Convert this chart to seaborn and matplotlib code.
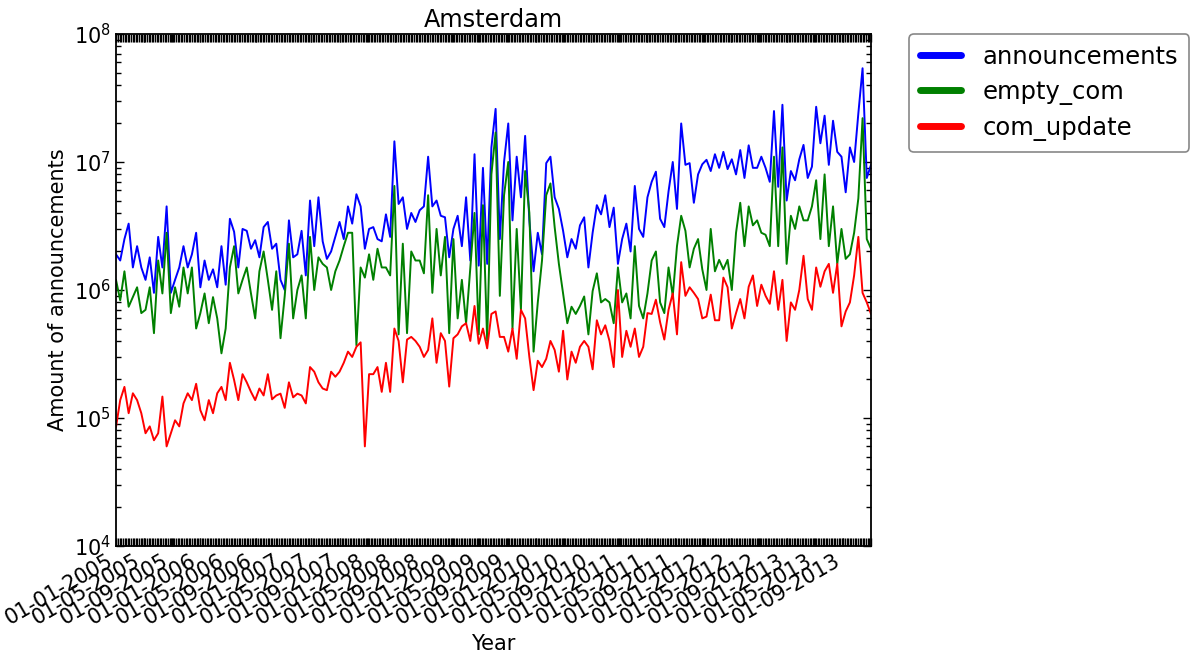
import numpy as np
import pandas as pd
import matplotlib
matplotlib.use('Agg')
import matplotlib.pyplot as plt
import matplotlib.dates as mdates
import seaborn as sns

sns.set_style('ticks')
plt.rcParams['font.family'] = ['DejaVu Sans']
plt.rcParams['mathtext.fontset'] = 'dejavusans'
for key in ['text.color', 'axes.labelcolor', 'xtick.color', 'ytick.color', 'axes.edgecolor']:
    plt.rcParams[key] = 'black'

start_date = '2005-01-01'
end_date = '2013-12-31'

series_names = ['announcements', 'empty_com', 'com_update']
series_colors = ['#0000ff', '#008000', '#ff0000']

announcements = [
    1.9e6, 1.7e6, 2.5e6, 3.3e6, 1.5e6, 2.2e6, 1.5e6, 1.2e6, 1.8e6, 0.95e6,
    2.6e6, 1.5e6, 4.5e6, 0.95e6, 1.2e6, 1.5e6, 2.2e6, 1.5e6, 1.9e6, 2.8e6,
    1.05e6, 1.7e6, 1.2e6, 1.45e6, 1.05e6, 2.2e6, 1.1e6, 3.6e6, 2.85e6, 1.5e6,
    3.0e6, 2.9e6, 2.1e6, 2.45e6, 1.8e6, 3.1e6, 3.4e6, 2.1e6, 2.3e6, 1.2e6,
    1.0e6, 3.5e6, 1.8e6, 1.9e6, 2.9e6, 1.3e6, 5.0e6, 2.2e6, 5.3e6, 2.4e6,
    1.75e6, 2.0e6, 2.6e6, 3.4e6, 2.5e6, 4.5e6, 3.3e6, 5.6e6, 4.5e6, 2.1e6,
    3.0e6, 3.1e6, 2.5e6, 2.4e6, 3.9e6, 2.6e6, 14.5e6, 4.7e6, 5.3e6, 3.0e6,
    4.0e6, 3.4e6, 4.2e6, 4.5e6, 11.0e6, 4.5e6, 5.0e6, 3.8e6, 3.7e6, 1.8e6,
    3.0e6, 3.8e6, 2.2e6, 5.3e6, 1.7e6, 11.5e6, 1.55e6, 9.0e6, 1.6e6, 13.0e6,
    26e6, 2.5e6, 10.0e6, 20e6, 3.5e6, 11e6, 5.3e6, 16e6, 3.5e6, 1.4e6,
    2.8e6, 1.9e6, 9.8e6, 11.0e6, 5.3e6, 4.3e6, 2.9e6, 1.8e6, 2.5e6, 2.1e6,
    3.2e6, 3.7e6, 1.5e6, 2.8e6, 4.6e6, 3.9e6, 5.5e6, 3.1e6, 4.4e6, 1.6e6,
    2.5e6, 3.3e6, 2.0e6, 6.5e6, 3.0e6, 2.6e6, 5.3e6, 7.0e6, 8.4e6, 3.6e6,
    3.1e6, 5.9e6, 10e6, 4.3e6, 20e6, 9.5e6, 9.8e6, 4.8e6, 8.0e6, 9.6e6,
    10.4e6, 8.5e6, 11.5e6, 9.0e6, 12e6, 8.8e6, 10.5e6, 8.0e6, 12.4e6, 7.5e6,
    13.5e6, 9.0e6, 9e6, 11e6, 9e6, 7e6, 25e6, 6.4e6, 28e6, 5e6,
    8.5e6, 7.2e6, 10.5e6, 13.6e6, 7.5e6, 9.2e6, 27e6, 14e6, 23e6, 9.5e6,
    21e6, 12e6, 11e6, 5.8e6, 13e6, 10e6, 24e6, 54e6, 7.5e6, 9.5e6,
]

empty_com = [
    1.2e6, 0.83e6, 1.4e6, 0.74e6, 0.88e6, 1.05e6, 0.66e6, 0.7e6, 1.05e6, 0.46e6,
    1.7e6, 0.94e6, 2.8e6, 0.66e6, 1.05e6, 0.74e6, 1.5e6, 0.94e6, 1.5e6, 0.5e6,
    0.66e6, 0.94e6, 0.55e6, 0.88e6, 0.6e6, 0.32e6, 0.5e6, 1.5e6, 2.2e6, 0.94e6,
    1.2e6, 1.5e6, 0.94e6, 0.6e6, 1.4e6, 2.0e6, 1.2e6, 0.7e6, 1.4e6, 0.42e6,
    0.9e6, 2.3e6, 0.6e6, 1.0e6, 1.3e6, 0.6e6, 2.6e6, 1.0e6, 1.8e6, 1.6e6,
    1.5e6, 1.0e6, 1.4e6, 1.7e6, 2.2e6, 2.8e6, 2.8e6, 0.37e6, 1.5e6, 1.25e6,
    1.9e6, 1.2e6, 2.1e6, 1.5e6, 1.5e6, 1.3e6, 6.5e6, 0.45e6, 2.3e6, 0.46e6,
    2.0e6, 1.7e6, 1.7e6, 1.35e6, 5.5e6, 0.95e6, 3.0e6, 1.3e6, 2.6e6, 0.46e6,
    2.5e6, 0.6e6, 1.2e6, 0.55e6, 1.5e6, 4.0e6, 0.45e6, 4.6e6, 0.4e6, 8.0e6,
    17e6, 0.9e6, 5.5e6, 10e6, 0.5e6, 3.0e6, 0.7e6, 8.5e6, 4.0e6, 0.33e6,
    0.8e6, 1.7e6, 5.5e6, 6.8e6, 3.1e6, 1.6e6, 0.94e6, 0.55e6, 0.74e6, 0.65e6,
    0.75e6, 0.89e6, 0.45e6, 0.98e6, 1.35e6, 0.8e6, 0.85e6, 0.8e6, 0.55e6, 1.5e6,
    0.8e6, 0.94e6, 0.6e6, 2.2e6, 0.75e6, 0.6e6, 0.94e6, 1.7e6, 2.0e6, 0.8e6,
    0.66e6, 1.5e6, 0.9e6, 2.2e6, 3.8e6, 2.9e6, 1.5e6, 2.1e6, 2.5e6, 1.45e6,
    1.0e6, 3.0e6, 1.4e6, 1.72e6, 1.45e6, 1.72e6, 1.0e6, 2.8e6, 4.8e6, 2.2e6,
    4.5e6, 3.2e6, 3.5e6, 2.8e6, 2.7e6, 2.2e6, 11e6, 2.2e6, 13e6, 1.6e6,
    3.8e6, 3.0e6, 4.5e6, 3.5e6, 3.5e6, 4.5e6, 7.2e6, 2.5e6, 8.0e6, 2.2e6,
    4.5e6, 1.6e6, 3.0e6, 1.75e6, 1.9e6, 2.8e6, 5.2e6, 22e6, 2.5e6, 2.1e6,
]

com_update = [
    0.85e5, 1.38e5, 1.75e5, 1.09e5, 1.56e5, 1.38e5, 1.09e5, 0.76e5, 0.86e5, 0.67e5,
    0.76e5, 1.47e5, 0.6e5, 0.76e5, 0.96e5, 0.86e5, 1.3e5, 1.56e5, 1.38e5, 1.85e5,
    1.15e5, 0.96e5, 1.38e5, 1.09e5, 1.56e5, 1.75e5, 1.38e5, 2.7e5, 1.98e5, 1.38e5,
    2.2e5, 1.9e5, 1.6e5, 1.38e5, 1.7e5, 1.5e5, 2.2e5, 1.4e5, 1.5e5, 1.55e5,
    1.2e5, 1.9e5, 1.45e5, 1.55e5, 1.5e5, 1.3e5, 2.5e5, 2.3e5, 1.9e5, 1.7e5,
    1.65e5, 2.3e5, 2.1e5, 2.3e5, 2.7e5, 3.3e5, 3.0e5, 3.6e5, 3.9e5, 0.6e5,
    2.2e5, 2.2e5, 2.5e5, 1.6e5, 2.7e5, 1.6e5, 5.0e5, 4.0e5, 1.9e5, 4.1e5,
    4.3e5, 4.0e5, 3.6e5, 3.0e5, 3.4e5, 6.0e5, 2.7e5, 4.6e5, 4.0e5, 1.76e5,
    4.2e5, 4.5e5, 5.2e5, 5.5e5, 4.0e5, 7.5e5, 3.8e5, 5.0e5, 3.5e5, 6.5e5,
    6.8e5, 4.3e5, 4.3e5, 3.3e5, 5.0e5, 2.9e5, 7.0e5, 6.0e5, 3.0e5, 1.65e5,
    2.8e5, 2.5e5, 2.9e5, 4.0e5, 3.4e5, 2.3e5, 4.8e5, 2.0e5, 3.3e5, 2.7e5,
    3.6e5, 4.0e5, 3.6e5, 2.4e5, 5.8e5, 4.5e5, 5.3e5, 4.0e5, 2.5e5, 10e5,
    3.0e5, 4.8e5, 3.6e5, 5.0e5, 3.0e5, 3.6e5, 6.6e5, 6.5e5, 8.4e5, 5.6e5,
    4.1e5, 7.0e5, 9.4e5, 4.5e5, 16.5e5, 9.0e5, 10.5e5, 9.5e5, 8.5e5, 6.0e5,
    6.2e5, 9.2e5, 5.8e5, 5.8e5, 12.5e5, 10.5e5, 5.0e5, 6.6e5, 8.5e5, 6.0e5,
    10.6e5, 13e5, 7.5e5, 11e5, 9e5, 7.8e5, 14e5, 7e5, 12e5, 4e5,
    8e5, 7e5, 10e5, 18.5e5, 8.5e5, 7e5, 15e5, 10.6e5, 14e5, 16e5,
    9.5e5, 16e5, 5.2e5, 6.8e5, 8e5, 13e5, 26e5, 9.5e5, 8e5, 6.5e5,
]

dates = pd.date_range(start_date, end_date, periods=len(announcements))
values = [announcements, empty_com, com_update]
df = pd.concat(
    [pd.DataFrame({'date': dates, 'value': v, 'series': n}) for n, v in zip(series_names, values)],
    ignore_index=True,
)

W, H = 1194, 657
fig = plt.figure(figsize=(W / 100, H / 100), dpi=100)
ax = fig.add_axes([116 / W, 1 - 546 / H, 755 / W, 512 / H])

sns.lineplot(data=df, x='date', y='value', hue='series', hue_order=series_names,
             palette=dict(zip(series_names, series_colors)), linewidth=1.4,
             errorbar=None, ax=ax)

ax.set_yscale('log')
ax.set_ylim(1e4, 1e8)
ax.set_xlim(dates[0], dates[-1])

ax.xaxis.set_major_locator(mdates.MonthLocator(bymonth=[1, 5, 9], bymonthday=1))
ax.xaxis.set_major_formatter(mdates.DateFormatter('%d-%m-%Y'))
ax.xaxis.set_minor_locator(mdates.WeekdayLocator(byweekday=mdates.MO))

ax.tick_params(axis='both', which='both', direction='in', top=True, right=True, color='black')
ax.tick_params(axis='x', which='major', length=6, width=1, labelsize=15)
ax.tick_params(axis='x', which='minor', length=6, width=1.0)
ax.tick_params(axis='y', which='major', length=6, width=1, labelsize=15)
ax.tick_params(axis='y', which='minor', length=3.5, width=1)
for lab in ax.get_xticklabels():
    lab.set_rotation(30)
    lab.set_ha('right')

for sp in ax.spines.values():
    sp.set_linewidth(1.3)
    sp.set_color('black')

ax.set_title('Amsterdam', fontsize=17.3, pad=5)
ax.set_xlabel('Year', fontsize=15)
ax.set_ylabel('Amount of announcements', fontsize=15)

handles, labels = ax.get_legend_handles_labels()
leg = ax.legend(handles, labels, loc='upper left', bbox_to_anchor=(1.05, 1.0),
                borderaxespad=0, fontsize=17.5, handlelength=1.7, handletextpad=0.9,
                labelspacing=0.45, borderpad=0.45, fancybox=True, framealpha=1,
                edgecolor='#888888')
for line in leg.get_lines():
    line.set_linewidth(5)
leg.get_frame().set_linewidth(1.2)

fig.savefig('out.png', dpi=100)
